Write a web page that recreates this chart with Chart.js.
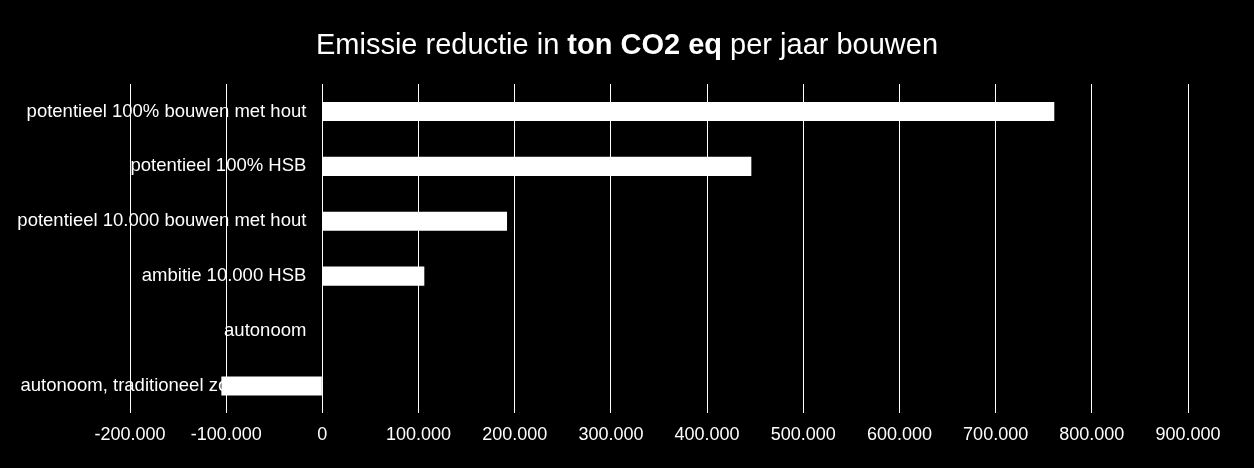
<!DOCTYPE html>
<html>
<head>
<meta charset="utf-8">
<script src="https://cdn.jsdelivr.net/npm/chart.js@4"></script>
<style>
  html, body { margin: 0; padding: 0; background: #000; }
  #wrap { width: 1254px; height: 468px; }
</style>
</head>
<body>
<div id="wrap"><canvas id="co2-chart"></canvas></div>
<script>
const categories = [
    'potentieel 100% bouwen met hout',
    'potentieel 100% HSB',
    'potentieel 10.000 bouwen met hout',
    'ambitie 10.000 HSB',
    'autonoom',
    'autonoom, traditioneel zonder hout'
];
const reductie = [761000, 446000, 192000, 106000, 0, -105000];
const xMin = -200000;
const xMax = 900000;
const xStep = 100000;
const titleParts = [
    { text: 'Emissie reductie in ', bold: false },
    { text: 'ton CO2 eq', bold: true },
    { text: ' per jaar bouwen', bold: false }
];

const FONT = '"Liberation Sans", Arial, sans-serif';

function formatNL(v) {
    const neg = v < 0;
    const s = Math.abs(v).toString().replace(/\B(?=(\d{3})+(?!\d))/g, '.');
    return (neg ? '-' : '') + s;
}

// black background + split bold title
const backdrop = {
    id: 'backdrop',
    beforeDraw(chart) {
        const c = chart.ctx;
        c.save();
        c.fillStyle = '#000';
        c.fillRect(0, 0, chart.width, chart.height);
        c.fillStyle = '#fff';
        c.textBaseline = 'alphabetic';
        let total = 0;
        const widths = titleParts.map(p => {
            c.font = (p.bold ? 'bold ' : '') + '29px ' + FONT;
            const w = c.measureText(p.text).width;
            total += w;
            return w;
        });
        let x = chart.width / 2 - total / 2;
        titleParts.forEach((p, i) => {
            c.font = (p.bold ? 'bold ' : '') + '29px ' + FONT;
            c.textAlign = 'left';
            c.fillText(p.text, x, 54);
            x += widths[i];
        });
        c.restore();
    }
};

// category labels sit next to the zero line, underneath the bars
const zeroLabels = {
    id: 'zeroLabels',
    beforeDatasetsDraw(chart) {
        const c = chart.ctx;
        const xs = chart.scales.x;
        const ys = chart.scales.y;
        const x0 = xs.getPixelForValue(0) - 16;
        c.save();
        c.fillStyle = '#fff';
        c.font = '18.5px ' + FONT;
        c.textAlign = 'right';
        c.textBaseline = 'middle';
        categories.forEach((label, i) => {
            c.fillText(label, x0, ys.getPixelForValue(i));
        });
        c.restore();
    }
};

new Chart(document.getElementById('co2-chart'), {
    type: 'bar',
    data: {
        labels: categories,
        datasets: [{
            data: reductie,
            backgroundColor: '#fff',
            borderWidth: 0,
            categoryPercentage: 1,
            barPercentage: 0.347
        }]
    },
    options: {
        indexAxis: 'y',
        responsive: true,
        maintainAspectRatio: false,
        animation: false,
        layout: { padding: { left: 130, right: 66, top: 84, bottom: 11 } },
        scales: {
            x: {
                min: xMin,
                max: xMax,
                ticks: {
                    stepSize: xStep,
                    color: '#fff',
                    padding: 11,
                    maxRotation: 0,
                    autoSkip: false,
                    font: { family: FONT, size: 18 },
                    callback: v => formatNL(v)
                },
                grid: { color: '#fff', lineWidth: 1, drawTicks: false, tickLength: 0 },
                border: { display: false }
            },
            y: {
                display: false
            }
        },
        plugins: {
            legend: { display: false },
            tooltip: { enabled: false },
            title: { display: false }
        }
    },
    plugins: [backdrop, zeroLabels]
});
</script>
</body>
</html>
